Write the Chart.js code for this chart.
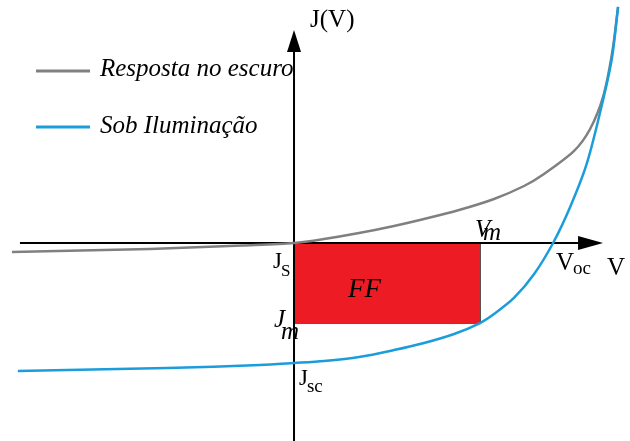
<!DOCTYPE html>
<html>
<head>
<meta charset="utf-8">
<script src="https://cdn.jsdelivr.net/npm/chart.js@4"></script>
<style>
    body { margin: 0; background: #fff; }
    #wrap { width: 630px; height: 441px; position: relative; }
</style>
</head>
<body>
<div id="wrap"><canvas id="jvChart"></canvas></div>
<script>
// Curva no escuro (tensão normalizada por Voc, corrente normalizada por Jsc)
const darkV = [-1.089, -0.556, -0.200, 0, 0.116, 0.251, 0.386, 0.502, 0.637, 0.772, 0.888, 0.965, 1.081, 1.143, 1.193, 1.228, 1.251];
const darkJ = [-0.075, -0.050, -0.020, 0, 0.033, 0.083, 0.142, 0.200, 0.275, 0.367, 0.475, 0.575, 0.767, 0.950, 1.217, 1.583, 1.967];

// Curva sob iluminação
const lightV = [-1.066, -0.490, -0.131, 0, 0.116, 0.251, 0.386, 0.502, 0.618, 0.718, 0.772, 0.849, 0.927, 1.0, 1.066, 1.131, 1.193, 1.228, 1.251];
const lightJ = [-1.067, -1.042, -1.017, -1.0, -0.983, -0.950, -0.892, -0.833, -0.758, -0.667, -0.592, -0.458, -0.258, 0, 0.300, 0.667, 1.192, 1.550, 1.967];

// Ponto de máxima potência e pontos notáveis
const VM = 0.718;
const JM = -0.667;
const VOC = 1.0;
const JSC = -1.0;

const seriesLabels = ['Resposta no escuro', 'Sob Iluminação'];

const GRAY = '#808080';
const BLUE = '#1b9ddb';
const SERIF = '"Liberation Serif", "Times New Roman", serif';

function toPoints(xs, ys) {
    return xs.map((x, i) => ({ x: x, y: ys[i] }));
}

function drawSub(ctx, main, sub, x, y, size, subSize, drop) {
    ctx.font = size + 'px ' + SERIF;
    ctx.fillText(main, x, y);
    const w = ctx.measureText(main).width;
    ctx.font = subSize + 'px ' + SERIF;
    ctx.fillText(sub, x + w - 1, y + drop);
}

// retângulo FF e eixos com setas
const axesPlugin = {
    id: 'axesPlugin',
    beforeDatasetsDraw(chart) {
        const ctx = chart.ctx;
        const xs = chart.scales.x, ys = chart.scales.y;
        const x0 = xs.getPixelForValue(0), y0 = ys.getPixelForValue(0);
        const xm = xs.getPixelForValue(VM), ym = ys.getPixelForValue(JM);

        ctx.save();
        ctx.fillStyle = '#ed1c24';
        ctx.fillRect(x0, y0 + 1, xm - x0, ym - y0 - 1);
        ctx.strokeStyle = '#555';
        ctx.lineWidth = 1;
        ctx.beginPath();
        ctx.moveTo(x0, ym + 0.5);
        ctx.lineTo(xm + 0.5, ym + 0.5);
        ctx.lineTo(xm + 0.5, y0 + 1);
        ctx.stroke();

        // eixo V
        const xLeft = xs.getPixelForValue(-1.058);
        const xTip = xs.getPixelForValue(1.193);
        ctx.strokeStyle = '#000';
        ctx.fillStyle = '#000';
        ctx.lineWidth = 2;
        ctx.beginPath();
        ctx.moveTo(xLeft, y0);
        ctx.lineTo(xTip - 20, y0);
        ctx.stroke();
        ctx.beginPath();
        ctx.moveTo(xTip, y0);
        ctx.lineTo(xTip - 25, y0 - 7);
        ctx.lineTo(xTip - 25, y0 + 7);
        ctx.closePath();
        ctx.fill();

        // eixo J
        const yTip = ys.getPixelForValue(1.775);
        ctx.beginPath();
        ctx.moveTo(x0, chart.height);
        ctx.lineTo(x0, yTip + 18);
        ctx.stroke();
        ctx.beginPath();
        ctx.moveTo(x0, yTip);
        ctx.lineTo(x0 - 7, yTip + 22);
        ctx.lineTo(x0 + 7, yTip + 22);
        ctx.closePath();
        ctx.fill();
        ctx.restore();
    },
    afterDatasetsDraw(chart) {
        const ctx = chart.ctx;
        const xs = chart.scales.x, ys = chart.scales.y;
        const x0 = xs.getPixelForValue(0), y0 = ys.getPixelForValue(0);
        const xm = xs.getPixelForValue(VM), ym = ys.getPixelForValue(JM);
        const xoc = xs.getPixelForValue(VOC), ysc = ys.getPixelForValue(JSC);

        ctx.save();
        ctx.fillStyle = '#000';
        ctx.textBaseline = 'alphabetic';

        // legenda
        chart.data.datasets.forEach((ds, i) => {
            const ly = [71, 127][i];
            ctx.strokeStyle = ds.borderColor;
            ctx.lineWidth = 3;
            ctx.beginPath();
            ctx.moveTo(36, ly);
            ctx.lineTo(90, ly);
            ctx.stroke();
            ctx.font = 'italic 25px ' + SERIF;
            ctx.fillText(ds.label, 100, [76, 133][i]);
        });

        ctx.font = '25px ' + SERIF;
        ctx.fillText('J(V)', x0 + 16, 27);
        ctx.fillText('V', 607, y0 + 32);

        drawSub(ctx, 'V', 'oc', xoc + 3, y0 + 27, 25, 19, 4);
        drawSub(ctx, 'J', 'S', x0 - 21, y0 + 25, 23, 17, 8);
        drawSub(ctx, 'J', 'sc', x0 + 5, ysc + 22, 23, 19, 7);

        ctx.font = 'italic 25px ' + SERIF;
        ctx.fillText('V', xm - 5, y0 - 6);
        ctx.fillText('m', xm + 3, y0 - 3);
        ctx.fillText('J', x0 - 20, ym + 4);
        ctx.fillText('m', x0 - 13, ym + 16);

        ctx.font = 'italic 27px ' + SERIF;
        ctx.fillText('FF', x0 + 54, y0 + 54);
        ctx.restore();
    }
};

const ctx = document.getElementById('jvChart').getContext('2d');
const jvChart = new Chart(ctx, {
    type: 'scatter',
    data: {
        datasets: [
            {
                label: seriesLabels[0],
                data: toPoints(darkV, darkJ),
                borderColor: GRAY,
                borderWidth: 2.5,
                showLine: true,
                pointRadius: 0,
                tension: 0.3,
                order: 2
            },
            {
                label: seriesLabels[1],
                data: toPoints(lightV, lightJ),
                borderColor: BLUE,
                borderWidth: 2.5,
                showLine: true,
                pointRadius: 0,
                tension: 0.3,
                order: 1
            }
        ]
    },
    options: {
        responsive: true,
        maintainAspectRatio: false,
        animation: false,
        layout: { padding: 0 },
        scales: {
            x: { type: 'linear', display: false, min: -1.135, max: 1.297 },
            y: { type: 'linear', display: false, min: -1.65, max: 2.025 }
        },
        plugins: {
            legend: { display: false },
            tooltip: { enabled: false }
        }
    },
    plugins: [axesPlugin]
});
</script>
</body>
</html>
